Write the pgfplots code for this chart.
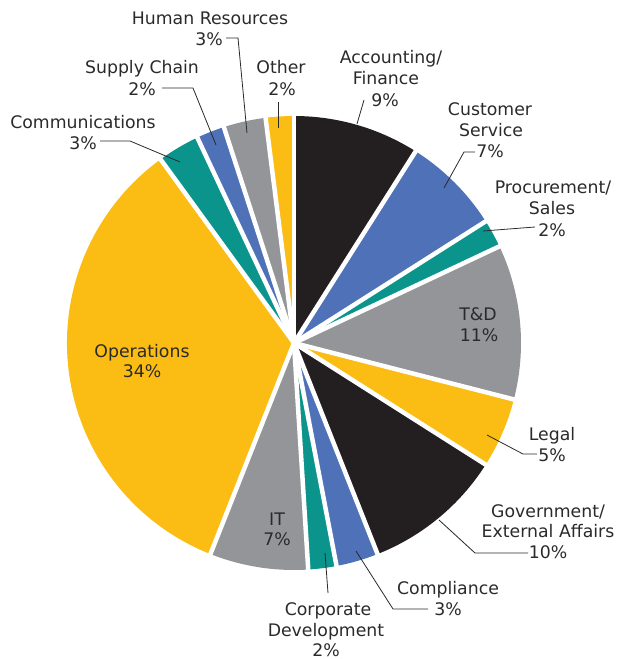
\documentclass[border=0pt]{standalone}
\usepackage{fontspec}
\setmainfont{DejaVu Sans}
\usepackage{pgfplots}
\usepackage{pgfplotstable}
\pgfplotsset{compat=1.18}

\definecolor{cblack}{HTML}{231F20}
\definecolor{cblue}{HTML}{4F71B8}
\definecolor{cteal}{HTML}{0B948C}
\definecolor{cgray}{HTML}{939598}
\definecolor{cyellow}{HTML}{FBBC13}
\definecolor{ctext}{HTML}{2A2A2A}

% share of each department, clockwise from 12 o'clock
\pgfplotstableread{
name value color
Accounting 9 cblack
Customer 7 cblue
Procurement 2 cteal
TD 11 cgray
Legal 5 cyellow
Government 10 cblack
Compliance 3 cblue
Corporate 2 cteal
IT 7 cgray
Operations 34 cyellow
Communications 3 cteal
SupplyChain 2 cblue
HumanResources 3 cgray
Other 2 cyellow
}\pietable

\newcommand{\lbl}[3]{\node[lbl] at (axis cs:#1,#2) {#3};}

\begin{document}
\begin{tikzpicture}[
  lbl/.style={font=\fontsize{17.3bp}{21bp}\selectfont, text=ctext, anchor=base, inner sep=0pt},
  lead/.style={draw=ctext, line width=0.8bp}]
\begin{axis}[
    width=619bp, height=659bp, scale only axis,
    hide axis, clip=false,
    xmin=0, xmax=619, ymin=0, ymax=659, y dir=reverse]

% keep the page as large as the reference
\path (axis cs:0,0) rectangle (axis cs:619,659);

\pgfplotstablegetrowsof{\pietable}
\pgfmathtruncatemacro\nrows{\pgfplotsretval-1}

% wedges
\def\angstart{90}
\pgfplotsforeachungrouped \i in {0,...,\nrows}{%
  \pgfplotstablegetelem{\i}{value}\of\pietable \let\val\pgfplotsretval
  \pgfplotstablegetelem{\i}{color}\of\pietable \let\col\pgfplotsretval
  \pgfmathsetmacro\angend{\angstart-3.6*\val}
  \edef\cmd{\noexpand\fill[\col] (axis cs:294,343) -- ++(\angstart:227bp)
    arc[start angle=\angstart, end angle=\angend, radius=227bp] -- cycle;}
  \cmd
  \let\angstart\angend
}

% white gaps between wedges
\def\angstart{90}
\pgfplotsforeachungrouped \i in {0,...,\nrows}{%
  \pgfplotstablegetelem{\i}{value}\of\pietable \let\val\pgfplotsretval
  \edef\cmd{\noexpand\draw[white, line width=4.5bp] (axis cs:294,343) -- ++(\angstart:232bp);}
  \cmd
  \pgfmathsetmacro\angend{\angstart-3.6*\val}
  \let\angstart\angend
}

% labels
\lbl{210}{25}{Human Resources}
\lbl{209}{46}{3\%}
\draw[lead] (axis cs:226,38) -- (axis cs:238,38) -- (axis cs:247,133);

\lbl{142}{74}{Supply Chain}
\lbl{142}{95}{2\%}
\draw[lead] (axis cs:162,88) -- (axis cs:193,88) -- (axis cs:216,145);

\lbl{281}{74}{Other}
\lbl{282}{95}{2\%}
\draw[lead] (axis cs:278,102) -- (axis cs:278,128);

\lbl{83}{128}{Communications}
\lbl{83}{149}{3\%}
\draw[lead] (axis cs:100,141) -- (axis cs:130,141) -- (axis cs:180,162);

\lbl{391}{64}{Accounting/}
\lbl{386}{85}{Finance}
\lbl{385}{106}{9\%}
\draw[lead] (axis cs:364,100) -- (axis cs:357,124);

\lbl{490}{115}{Customer}
\lbl{491}{136}{Service}
\lbl{490}{157}{7\%}
\draw[lead] (axis cs:475,152) -- (axis cs:464,152) -- (axis cs:444,188);

\lbl{553}{193}{Procurement/}
\lbl{552}{214}{Sales}
\lbl{552}{236}{2\%}
\draw[lead] (axis cs:535,227) -- (axis cs:483,231);

\lbl{478}{320}{T\&D}
\lbl{479}{341}{11\%}

\lbl{552}{440}{Legal}
\lbl{552}{461}{5\%}
\draw[lead] (axis cs:537,454) -- (axis cs:523,454) -- (axis cs:487,435);

\lbl{548}{517}{Government/}
\lbl{548}{537}{External Affairs}
\lbl{548}{558}{10\%}
\draw[lead] (axis cs:528,553) -- (axis cs:475,553) -- (axis cs:439,520);

\lbl{448}{594}{Compliance}
\lbl{448}{615}{3\%}
\draw[lead] (axis cs:428,609) -- (axis cs:393,609) -- (axis cs:356,551);

\lbl{328}{615}{Corporate}
\lbl{326}{636}{Development}
\lbl{326}{656}{2\%}
\draw[lead] (axis cs:328,593) -- (axis cs:325,553);

\lbl{277}{525}{IT}
\lbl{277}{545}{7\%}

\lbl{142}{357}{Operations}
\lbl{142}{377}{34\%}
\end{axis}
\end{tikzpicture}
\end{document}
